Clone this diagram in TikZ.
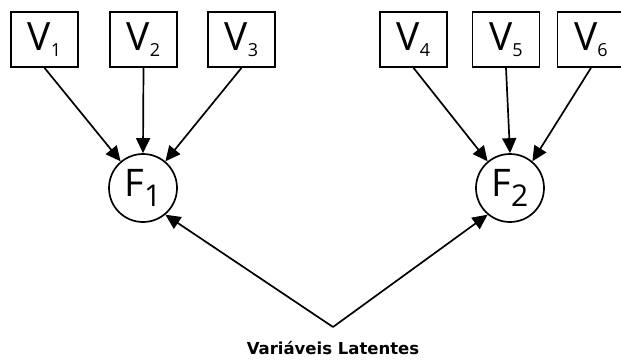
\documentclass[tikz,border=0pt]{standalone}
\usepackage{fontspec}
\setmainfont{Open Sans}
\newfontfamily\labelfont{DejaVu Sans}
\usetikzlibrary{arrows.meta}
\newcommand{\vsub}[1]{\raisebox{-6pt}{\fontsize{18}{18}\selectfont #1}}
\newcommand{\fsub}[1]{\raisebox{-10pt}{\fontsize{30}{30}\selectfont #1}}
\begin{document}
\begin{tikzpicture}[x=1pt,y=-1pt,
  varbox/.style={draw, line width=1.7pt, minimum width=67pt, minimum height=55pt,
    inner sep=0pt, font=\fontsize{39}{39}\selectfont},
  factor/.style={draw, circle, line width=1.7pt, minimum size=68pt, inner sep=0pt,
    font=\fontsize{38}{38}\selectfont},
  link/.style={line width=1.7pt, -{Triangle[length=15pt,width=14pt]}}]
\useasboundingbox (0,0) rectangle (621,359);
% observed variables
\node[varbox] (v1) at (44.5,39.5) {V\vsub{1}};
\node[varbox] (v2) at (143.5,39.5) {V\vsub{2}};
\node[varbox] (v3) at (241.5,39.5) {V\vsub{3}};
\node[varbox] (v4) at (413.5,39.5) {V\vsub{4}};
\node[varbox] (v5) at (506,39.5) {V\vsub{5}};
\node[varbox] (v6) at (591,39.5) {V\vsub{6}};
% latent factors
\node[factor] (f1) at (143,188) {F\fsub{1}};
\node[factor] (f2) at (510,188) {F\fsub{2}};
% loadings
\draw[link] (v1.south) -- (f1.130);
\draw[link] (v2.south) -- (f1.north);
\draw[link] (v3.south) -- (f1.50);
\draw[link] (v4.south) -- (f2.130);
\draw[link] (v5.south) -- (f2.north);
\draw[link] (v6.south) -- (f2.50);
% caption pointing to both factors
\coordinate (apex) at (333,327);
\draw[link] (apex) -- (f1.-50);
\draw[link] (apex) -- (f2.-130);
\node[font=\labelfont\bfseries\fontsize{16.5}{16.5}\selectfont, inner sep=1pt] (cap) at (333,348.5) {Variáveis Latentes};
\end{tikzpicture}
\end{document}
